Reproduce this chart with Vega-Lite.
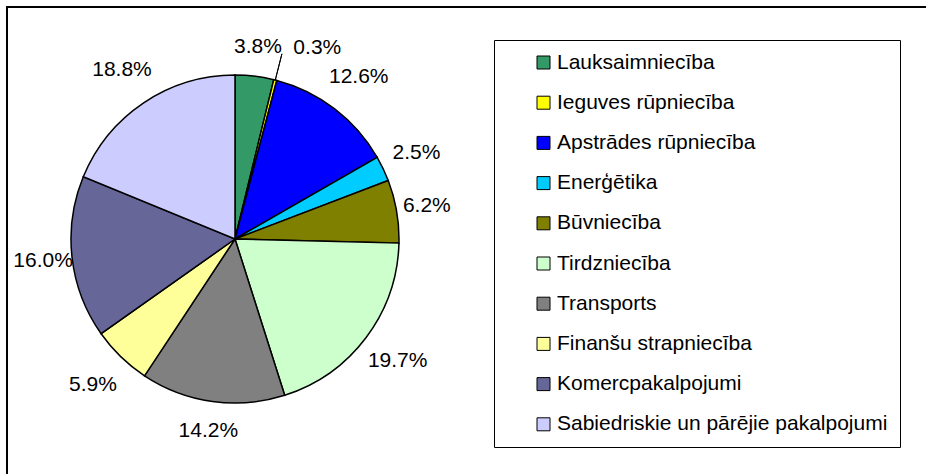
{
  "$schema": "https://vega.github.io/schema/vega-lite/v6.json",
  "autosize": {"type": "none"},
  "padding": {"left": 7, "top": 7, "right": -10, "bottom": -10},
  "width": 929,
  "height": 477,
  "background": "white",
  "view": {"stroke": "black", "strokeWidth": 2, "fill": "white"},
  "config": {
    "font": "Liberation Sans"
  },
  "data": {
    "values": [
      {"sector": "Lauksaimniecība", "share": 0.038},
      {"sector": "Ieguves rūpniecība", "share": 0.003},
      {"sector": "Apstrādes rūpniecība", "share": 0.126},
      {"sector": "Enerģētika", "share": 0.025},
      {"sector": "Būvniecība", "share": 0.062},
      {"sector": "Tirdzniecība", "share": 0.197},
      {"sector": "Transports", "share": 0.142},
      {"sector": "Finanšu strapniecība", "share": 0.059},
      {"sector": "Komercpakalpojumi", "share": 0.160},
      {"sector": "Sabiedriskie un pārējie pakalpojumi", "share": 0.188}
    ]
  },
  "transform": [
    {"window": [{"op": "row_number", "as": "rank"}]}
  ],
  "encoding": {
    "theta": {"field": "share", "type": "quantitative", "stack": true},
    "order": {"field": "rank", "type": "quantitative", "sort": "ascending"},
    "color": {
      "field": "sector",
      "type": "nominal",
      "sort": null,
      "scale": {
        "domain": ["Lauksaimniecība", "Ieguves rūpniecība", "Apstrādes rūpniecība", "Enerģētika", "Būvniecība", "Tirdzniecība", "Transports", "Finanšu strapniecība", "Komercpakalpojumi", "Sabiedriskie un pārējie pakalpojumi"],
        "range": ["#339966", "#ffff00", "#0000ff", "#00ccff", "#808000", "#ccffcc", "#808080", "#ffff99", "#666699", "#ccccff"]
      },
      "legend": {
        "orient": "none",
        "legendX": 487,
        "legendY": 33,
        "title": null,
        "symbolType": "square",
        "symbolSize": 169,
        "symbolStrokeColor": "black",
        "symbolStrokeWidth": 1,
        "symbolOpacity": 1,
        "labelFont": "Liberation Sans",
        "labelFontSize": 21,
        "labelColor": "black",
        "labelOffset": 3,
        "labelLimit": 500,
        "rowPadding": 18.2,
        "padding": 12,
        "symbolOffset": 27,
        "strokeColor": "black",
        "fillColor": "white"
      }
    }
  },
  "layer": [
    {
      "mark": {"type": "arc", "x": 228, "y": 232, "radius": 164, "stroke": "black", "strokeWidth": 1.5}
    },
    {
      "mark": {
        "type": "arc",
        "x": 228,
        "y": 232,
        "radius": 191,
        "radius2": 164,
        "padAngle": 0.05,
        "fillOpacity": 0,
        "stroke": "black",
        "strokeWidth": 1,
        "strokeOpacity": {"expr": "datum.share < 0.01 ? 1 : 0"}
      }
    },
    {
      "mark": {
        "type": "text",
        "x": 228,
        "y": 232,
        "radius": {"expr": "190 + 14 * abs(sin(2 * PI * (datum.share_start + datum.share_end)))"},
        "fontSize": 21,
        "font": "Liberation Sans",
        "dx": {"expr": "datum.share < 0.01 ? 34 : 0"}
      },
      "encoding": {
        "text": {"field": "share", "type": "quantitative", "format": ".1%"},
        "color": {"value": "black"}
      }
    }
  ]
}
